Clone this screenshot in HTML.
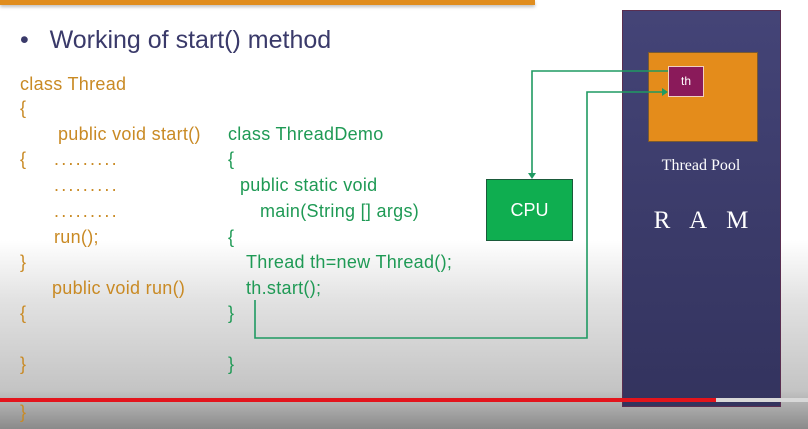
<!DOCTYPE html>
<html><head><style>
body{margin:0;width:808px;height:429px;overflow:hidden;position:relative;font-family:"Liberation Sans",sans-serif;
background:linear-gradient(to bottom,#fff 0px,#fff 240px,#e2e2e2 300px,#c4c4c4 390px,#8a8a8a 429px);}
.t{position:absolute;font-size:18px;letter-spacing:0.3px;line-height:22px;white-space:nowrap;}
.o{color:#c98a24}.g{color:#1f9a55}
.d{letter-spacing:2.2px}
</style></head><body>
<div style="position:absolute;left:0;top:0;width:535px;height:5px;background:#e08d1e;box-shadow:0 2px 3px rgba(0,0,0,.25)"></div>
<div class="t" style="left:20px;top:25px;font-size:25px;letter-spacing:0;line-height:30px;color:#3a3a6a">•&nbsp;&nbsp; Working of start() method</div>
<div class="t o" style="left:20px;top:73px">class Thread</div>
<div class="t o" style="left:20px;top:97px">{</div>
<div class="t o" style="left:58px;top:123px">public void start()</div>
<div class="t o" style="left:20px;top:148px">{</div>
<div class="t o d" style="left:54px;top:148px">.........</div>
<div class="t o d" style="left:54px;top:174px">.........</div>
<div class="t o d" style="left:54px;top:200px">.........</div>
<div class="t o" style="left:54px;top:226px">run();</div>
<div class="t o" style="left:20px;top:251px">}</div>
<div class="t o" style="left:52px;top:277px">public void run()</div>
<div class="t o" style="left:20px;top:302px">{</div>
<div class="t o" style="left:20px;top:353px">}</div>
<div class="t o" style="left:20px;top:401px">}</div>
<div class="t g" style="left:228px;top:123px">class ThreadDemo</div>
<div class="t g" style="left:228px;top:148px">{</div>
<div class="t g" style="left:240px;top:174px">public static void</div>
<div class="t g" style="left:260px;top:200px">main(String [] args)</div>
<div class="t g" style="left:228px;top:226px">{</div>
<div class="t g" style="left:246px;top:251px">Thread th=new Thread();</div>
<div class="t g" style="left:246px;top:277px">th.start();</div>
<div class="t g" style="left:228px;top:302px">}</div>
<div class="t g" style="left:228px;top:353px">}</div>
<div style="position:absolute;left:622px;top:10px;width:157px;height:395px;background:linear-gradient(#444477,#33335e);border:1px solid #5a2e50"></div>
<div style="position:absolute;left:648px;top:52px;width:110px;height:90px;background:#e48c1b;border:1px solid #7a5a30;box-sizing:border-box"></div>
<div style="position:absolute;left:668px;top:66px;width:36px;height:31px;background:#8a1a5a;border:1px solid #f0d0c0;box-sizing:border-box;color:#fff;font-size:12px;text-align:center;line-height:29px">th</div>
<div class="t" style="left:622px;top:155px;width:158px;text-align:center;color:#fff;font-family:'Liberation Serif',serif;font-size:16px;letter-spacing:0">Thread Pool</div>
<div class="t" style="left:622px;top:205px;width:158px;text-align:center;color:#fff;font-family:'Liberation Serif',serif;font-size:25px;letter-spacing:0;line-height:32px;word-spacing:14px">R A M</div>
<div style="position:absolute;left:486px;top:179px;width:87px;height:62px;background:#0fae50;border:1px solid #1a5a3a;box-sizing:border-box;color:#fff;font-size:18px;text-align:center;line-height:60px">CPU</div>
<svg width="808" height="429" style="position:absolute;left:0;top:0">
<g stroke="#1f9a62" stroke-width="1.6" fill="none">
<polyline points="668,71 532,71 532,176"/>
<polyline points="255,300 255,338 587,338 587,92 664,92"/>
</g>
<polygon points="528,173 536,173 532,179" fill="#1f9a62"/>
<polygon points="662,88 662,96 668,92" fill="#1f9a62"/>
<rect x="0" y="398" width="716" height="4" fill="#e3141c"/>
<rect x="716" y="398" width="92" height="4" fill="#d8d8d8"/>
</svg>
</body></html>
